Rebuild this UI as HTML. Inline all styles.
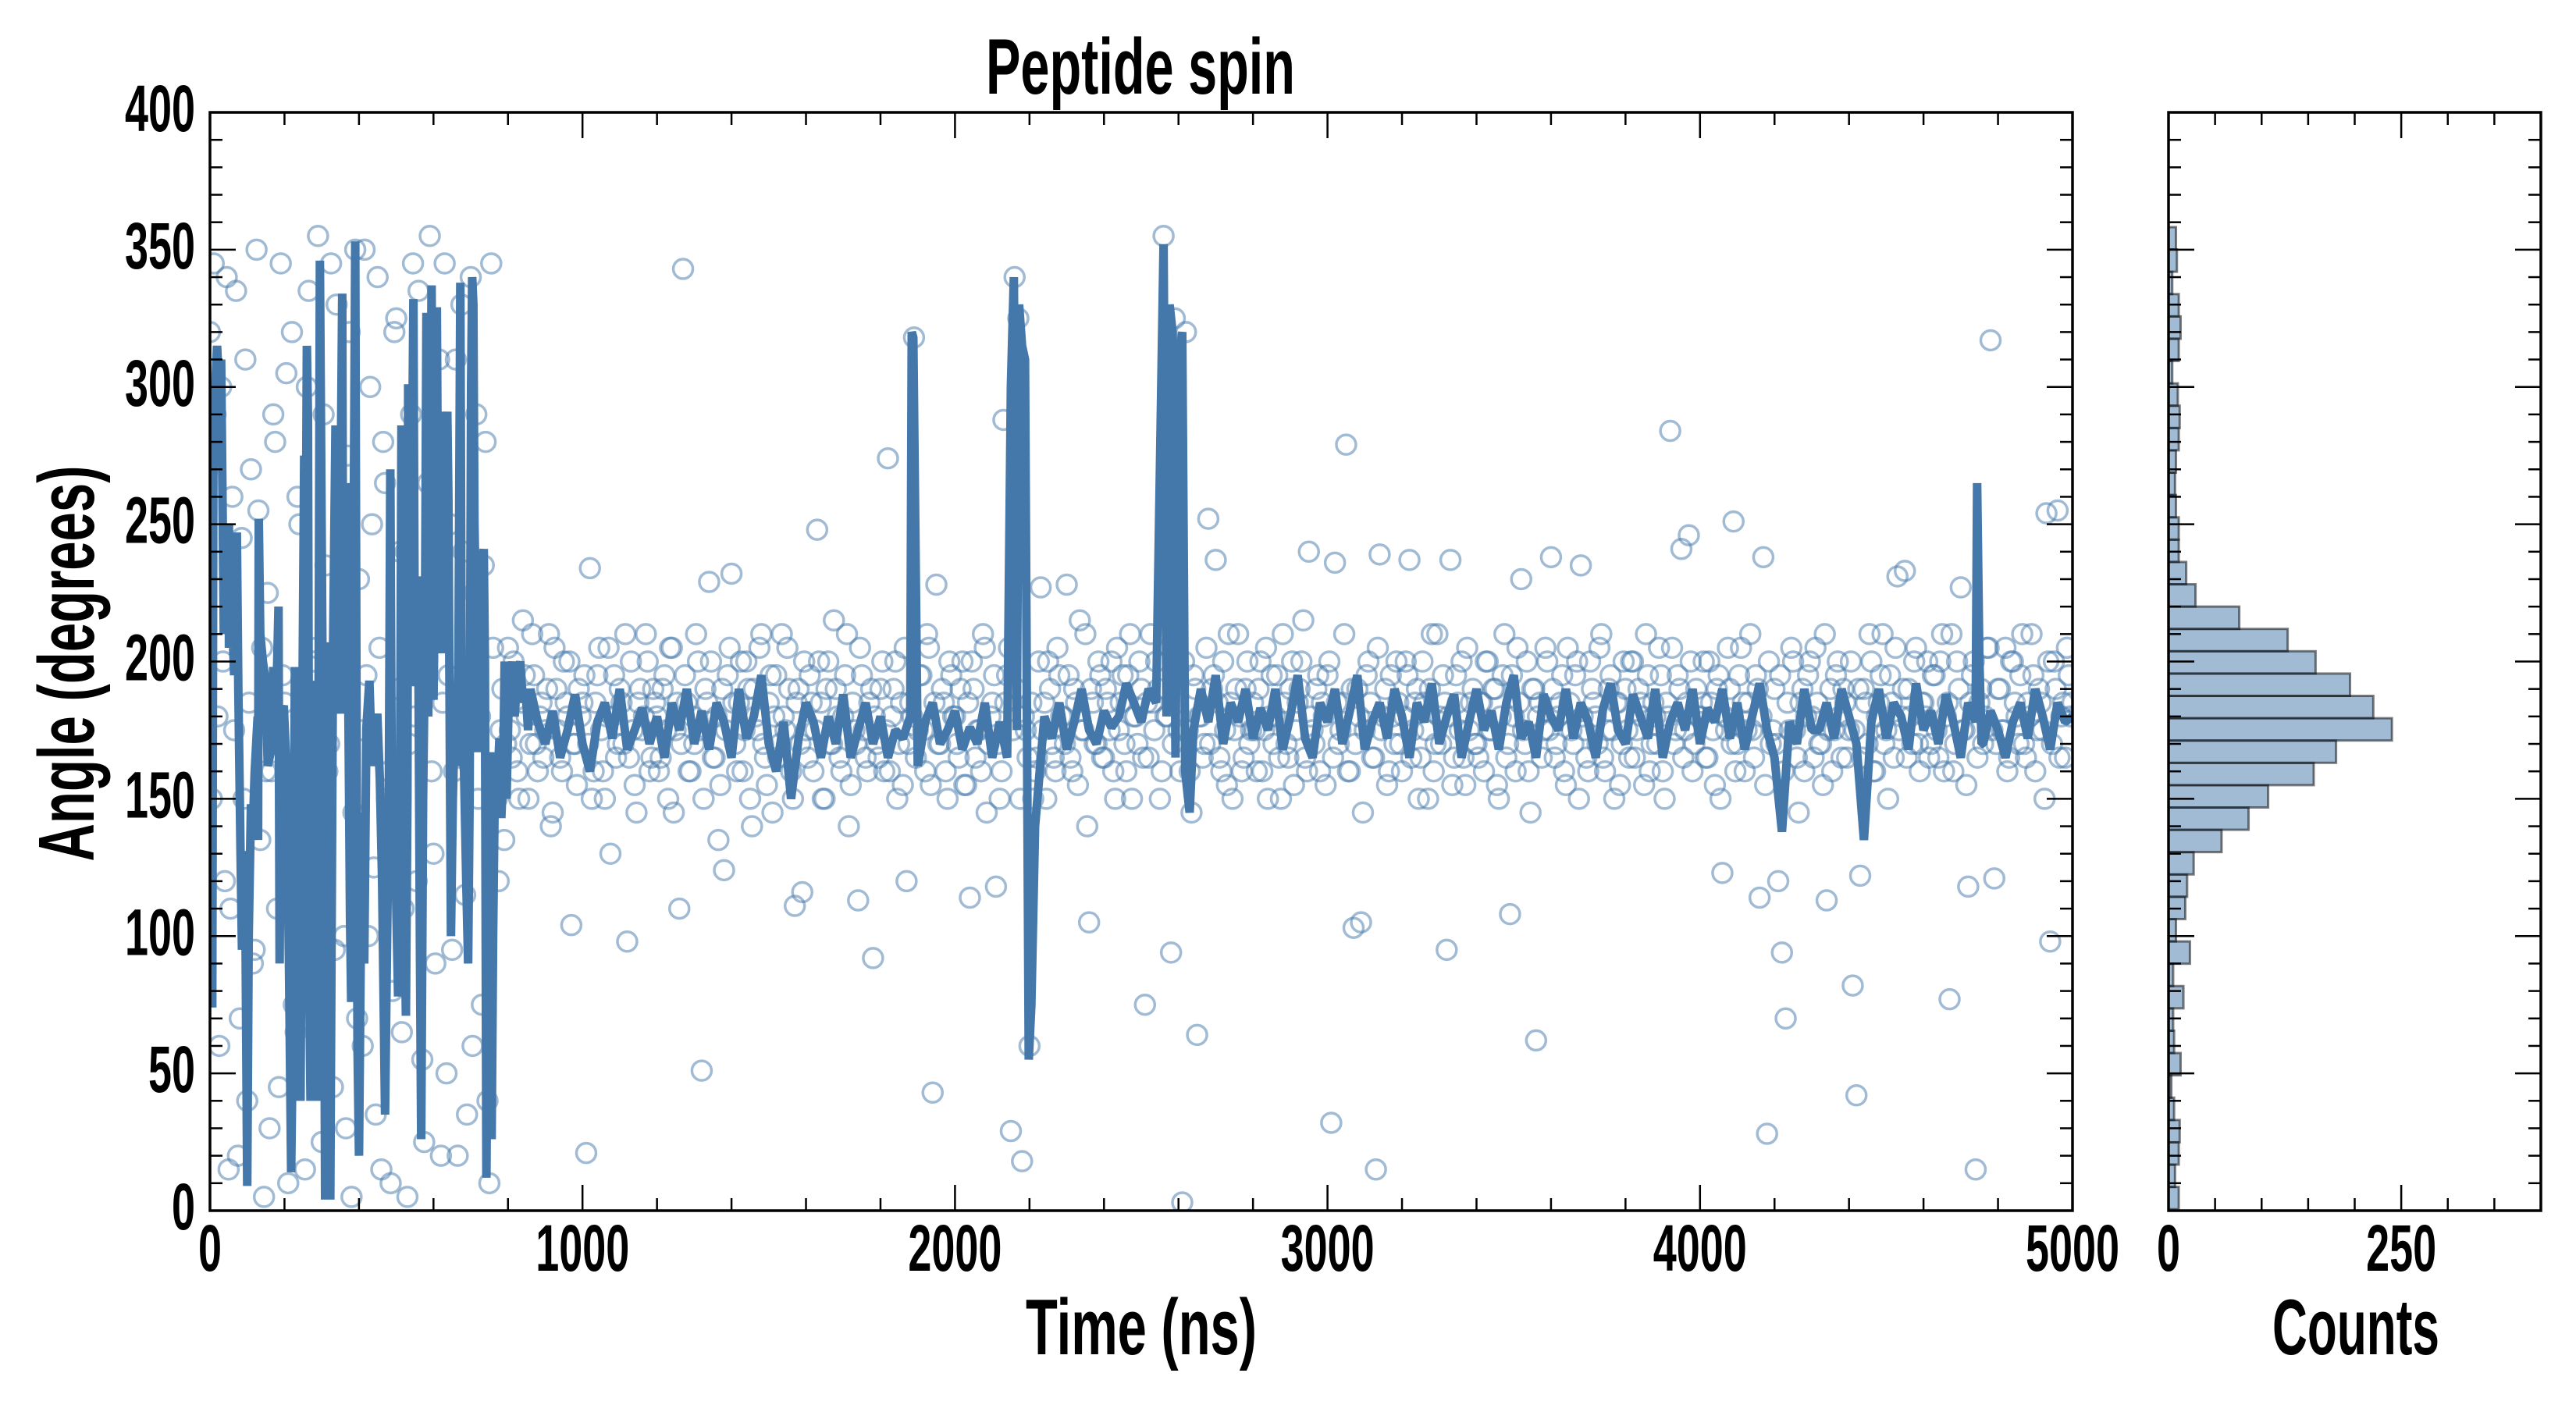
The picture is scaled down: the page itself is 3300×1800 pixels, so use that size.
<!DOCTYPE html>
<html><head><meta charset="utf-8"><title>Peptide spin</title>
<style>
html,body{margin:0;padding:0;background:#fff;}
svg{display:block;}
text{font-family:"Liberation Sans Narrow","Liberation Sans",sans-serif;font-weight:bold;fill:#000;}
</style></head>
<body>
<svg id="chart" width="3300" height="1800" viewBox="0 0 3300 1800" xmlns="http://www.w3.org/2000/svg">
<defs>
<clipPath id="mainClip"><rect x="269" y="144" width="2386" height="1407"/></clipPath>
</defs>
<rect x="0" y="0" width="3300" height="1800" fill="#fff"/>
<g id="scatterLayer" clip-path="url(#mainClip)"></g>
<g id="lineLayer" clip-path="url(#mainClip)"></g>
<g id="histLayer"></g>
<g id="axesLayer"></g>
<text x="1461" y="120" font-size="101" text-anchor="middle" textLength="396" lengthAdjust="spacingAndGlyphs">Peptide spin</text>
<text x="1462" y="1735" font-size="101" text-anchor="middle" textLength="296" lengthAdjust="spacingAndGlyphs">Time (ns)</text>
<text x="3018" y="1735" font-size="101" text-anchor="middle" textLength="214" lengthAdjust="spacingAndGlyphs">Counts</text>
<text transform="translate(120,850) rotate(-90)" x="0" y="0" font-size="101" text-anchor="middle" textLength="507" lengthAdjust="spacingAndGlyphs">Angle (degrees)</text>
</svg>
<script>
// ---- data ----
const scatterStep = 10;
const scatterAngles = [
320,345,180,300,120,15,260,335,70,150,40,270,95,255,205,160,30,290,110,345,
185,10,320,65,250,140,300,85,200,355,25,235,170,45,330,210,100,275,5,350,
230,60,195,300,125,340,15,265,160,80,325,240,110,5,290,180,335,55,215,355,
130,275,20,345,195,95,310,165,240,35,340,225,150,75,280,10,205,150,175,135,
205,165,190,150,215,180,170,195,160,185,175,210,145,190,165,200,180,104,170,190,
185,21,234,160,195,175,150,205,180,165,190,170,98,200,155,185,175,210,160,190,
180,165,195,150,205,175,110,343,185,160,170,200,51,190,229,165,180,155,124,195,
232,170,185,160,200,150,190,175,210,165,185,145,195,170,180,205,160,111,190,116,
175,195,160,248,185,150,200,170,190,165,180,210,155,175,113,195,165,185,92,170,
190,160,274,180,200,170,155,120,185,318,175,195,160,205,43,228,170,185,150,195,
180,165,200,155,114,190,175,160,205,170,185,118,150,288,195,29,340,325,18,175,
60,150,165,227,185,200,170,160,195,180,228,165,190,155,175,210,105,185,170,195,
165,185,200,150,175,195,160,210,180,170,190,75,165,185,200,150,355,180,94,325,
175,3,320,160,195,64,180,170,252,190,237,165,200,155,185,175,210,160,190,170,
185,160,200,175,150,195,180,165,210,170,190,155,185,200,165,240,175,190,160,180,
195,32,236,170,185,279,160,103,190,105,175,200,165,15,239,180,155,195,170,185,
160,200,237,175,190,165,185,150,210,170,180,195,95,237,165,185,200,155,175,190,
170,185,160,200,175,190,150,195,165,108,180,205,230,170,160,190,62,185,175,200,
238,165,180,195,155,185,170,200,235,175,160,190,180,205,165,175,195,150,185,170,
190,165,200,175,185,155,195,170,180,205,160,185,284,170,195,241,175,246,160,190,
180,200,165,185,155,195,123,175,190,251,170,205,160,185,175,195,114,238,28,170,
190,120,94,70,175,200,165,185,160,195,180,205,170,155,113,190,175,200,165,185,
175,82,42,122,190,170,200,160,185,210,175,195,165,231,180,233,190,170,205,160,
185,200,170,195,165,210,180,77,160,200,227,175,118,195,15,185,170,205,317,121,
190,175,205,165,200,180,195,170,185,210,160,190,175,254,98,200,255,180,165,195,
185];
const scatter2Offset = 5;
const scatterAngles2 = [
150,290,60,200,340,110,175,20,245,310,185,90,350,135,5,225,160,280,45,195,
305,140,75,260,180,15,335,120,205,55,290,160,345,95,185,250,30,320,145,70,
175,350,100,250,35,205,280,150,10,320,190,65,240,170,345,120,200,25,265,160,
90,310,185,50,250,160,20,330,115,200,60,290,180,235,40,345,150,120,190,170,
175,200,160,185,195,150,210,170,180,165,190,140,205,175,160,185,200,170,155,180,
195,170,150,185,205,160,180,130,195,170,185,210,165,175,145,190,180,200,165,185,
160,190,175,205,145,185,170,195,160,180,210,175,150,185,200,165,135,190,175,205,
185,160,200,175,190,140,180,205,170,155,195,180,165,210,175,190,150,185,170,200,
165,185,175,200,150,190,170,215,180,160,195,140,185,170,205,175,160,190,180,165,
200,175,160,190,150,185,205,170,180,165,195,175,210,155,185,170,190,160,200,180,
170,190,155,185,200,165,175,210,145,180,195,170,160,185,205,175,190,150,180,165,
185,160,200,175,150,190,165,205,180,170,195,160,185,215,175,140,190,170,200,165,
190,175,160,205,185,170,195,150,180,200,165,185,210,175,190,160,180,205,170,185,
160,200,175,145,190,180,165,205,170,195,185,160,175,210,150,190,180,165,200,175,
175,190,160,205,180,170,195,150,185,165,200,175,190,215,160,180,170,195,185,155,
200,165,185,175,210,160,190,170,180,145,195,185,165,205,175,190,160,180,200,170,
180,195,165,185,150,200,175,190,160,210,170,185,180,155,195,175,165,205,185,170,
165,185,200,175,190,155,180,210,170,195,160,185,175,200,145,190,180,165,205,175,
190,170,185,160,205,175,195,150,180,165,200,185,170,210,160,190,175,185,155,200,
175,200,165,190,180,210,160,185,170,195,150,180,205,175,190,165,185,200,170,180,
185,165,200,175,190,150,180,205,170,160,195,185,175,210,165,190,180,155,200,175,
170,195,160,185,205,175,145,190,180,200,165,185,170,210,175,160,195,180,190,165,
200,175,190,165,185,210,160,180,195,170,150,185,205,175,190,165,180,200,170,185,
180,165,195,175,200,160,185,210,170,190,175,155,185,200,165,190,180,205,175,170,
190,175,160,200,185,170,210,165,180,195,175,185,150,200,170,190,165,185,205,180];

const earlyTimes = [0,3,6,9,14,19,24,30,37,44,51,51,58,65,72,76,82,86,90,95,100,104,110,114,120,128,129,131,135,142,149,155,163,170,177,184,187,191,198,205,212,218,222,228,232,236,239,243,248,253,256,260,263,267,270,275,281,283,288,292,295,298,302,306,309,314,318,323,330,337,344,350,355,358,365,372,376,379,384,390,393,396,400,405,410,414,420,428,435,442,449,456,462,470,474,480,484,488,494,498,500,505,510,514,518,522,526,530,532,536,542,546,550,556,560,564,567,572,577,581,586,590,595,600,605,609,614,618,623,627,632,637,640,644,647,652,658,662,667,672,676,682,688,693,697,701,704,707,710,714,717,722,728,735,738,742,746,752,756,760,765,770,777,782,787,791,796,801,805,812,818,825,833,840,847,854];
const earlyAngles = [160,267,74,267,300,315,300,310,210,240,250,205,220,195,247,190,131,95,131,110,9,100,148,135,160,180,135,252,210,200,193,162,167,198,180,220,90,180,184,162,90,14,60,198,145,198,76,40,180,275,203,315,289,76,40,193,162,76,40,200,346,286,200,124,4,110,207,4,200,286,181,250,334,181,265,176,107,76,200,353,203,60,20,100,145,90,176,193,162,170,181,157,120,35,83,150,270,150,162,141,112,78,150,286,203,112,71,150,301,203,260,332,191,231,191,90,26,150,205,327,180,250,337,186,240,329,203,250,291,203,265,291,260,167,100,150,184,162,200,338,170,160,120,90,150,300,340,330,250,219,167,200,230,241,200,12,100,167,26,100,160,150,172,143,160,200,150,180,188,200,180,195,200,185,190,175];

const steadyStart = 860;
const steadyStep = 20;
const steadyAngles = [
190,178,170,182,165,175,188,170,160,178,185,172,190,168,175,183,170,180,165,185,
175,190,170,182,168,185,178,165,190,172,180,195,170,160,178,150,172,185,178,165,
180,170,188,165,175,185,170,180,165,175,172,180,162,178,185,170,175,182,168,176,
170,185,165,178,165,null,null,null,null,180,172,185,168,178,190,175,170,182,176,
180,192,185,178,190,185,null,null,null,null,175,190,178,195,170,185,178,190,172,183,
175,190,168,180,195,172,165,185,178,190,170,182,195,168,178,185,172,190,180,165,
185,178,192,170,180,188,165,178,190,175,182,168,185,195,172,178,165,188,180,175,
190,172,185,178,165,183,192,175,170,188,180,172,190,165,178,185,175,190,170,183,
178,190,172,185,168,180,192,175,165,138,178,170,190,175,175,185,172,190,180,170,
135,178,190,172,185,180,168,192,175,182,170,188,178,165,185,178,170,182,175,165,
178,185,172,190,180,168,185,178,180];

const spikeTimes = [1884,1888, 2150,2158,2166,2172,2180,2188,2198,2205,2215, 2560,2568,2576,2584,2592,2600,2610,2618,2630, 4744,4750,4756];
const spikeAngles = [320,318, 300,340,175,330,315,310,55,75,140, 352,180,330,320,165,310,320,160,145, 265,200,170];

const histBinStart = 0.5;
const histBinWidth = 8.13;
const histCounts = [11,7,11,12,6,3,13,6,5,16,5,23,8,18,20,27,57,86,107,156,180,240,220,195,158,128,76,29,19,11,11,8,7,8,11,12,10,4,11,13,11,4,9,8];

const xTicksMajor = [0,1000,2000,3000,4000,5000];
const xTickLabels = ["0","1000","2000","3000","4000","5000"];
const yTicksMajor = [0,50,100,150,200,250,300,350,400];
const yTickLabels = ["0","50","100","150","200","250","300","350","400"];
const countTicksMajor = [0,250];
const countTickLabels = ["0","250"];

// ---- scales ----
const X0=269, X1=2655, Y0=1551, Y1=144, H0=2778, H1=3255;
const tMax=5000, aMax=400, cMax=400;
const xs = t => X0 + (t/tMax)*(X1-X0);
const ys = a => Y0 - (a/aMax)*(Y0-Y1);
const hs = c => H0 + (c/cMax)*(H1-H0);
const NS='http://www.w3.org/2000/svg';
function mk(tag, attrs, parent){const e=document.createElementNS(NS,tag);for(const k in attrs)e.setAttribute(k,attrs[k]);parent.appendChild(e);return e;}

// scatter
const sc=document.getElementById('scatterLayer');
scatterAngles.forEach((a,i)=>{
  const c=mk('circle',{cx:xs(i*scatterStep),cy:ys(a),r:12.5,fill:'none',stroke:'rgba(68,119,170,0.5)','stroke-width':3.5},sc);
  
  
});
scatterAngles2.forEach((a,i)=>{
  const c=mk('circle',{cx:xs(scatter2Offset+i*scatterStep),cy:ys(a),r:12.5,fill:'none',stroke:'rgba(68,119,170,0.5)','stroke-width':3.5},sc);
  
  
});

// line
const pts=[];
earlyTimes.forEach((t,i)=>pts.push([t,earlyAngles[i]]));
steadyAngles.forEach((a,i)=>{if(a!==null)pts.push([steadyStart+i*steadyStep,a]);});
spikeTimes.forEach((t,i)=>pts.push([t,spikeAngles[i]]));
pts.sort((p,q)=>p[0]-q[0]);
const ln=document.getElementById('lineLayer');
const pl=mk('polyline',{points:pts.map(p=>xs(p[0]).toFixed(1)+','+ys(p[1]).toFixed(1)).join(' '),fill:'none',stroke:'#4477aa','stroke-width':11,'stroke-linejoin':'bevel','stroke-linecap':'butt'},ln);



// histogram
const hg=document.getElementById('histLayer');
histCounts.forEach((c,i)=>{
  const lo=histBinStart+i*histBinWidth, hi=lo+histBinWidth;
  const r=mk('rect',{x:H0,y:ys(hi),width:hs(c)-H0,height:ys(lo)-ys(hi),fill:'rgba(68,119,170,0.5)',stroke:'rgba(0,0,0,0.5)','stroke-width':3},hg);
  
  
});

// axes
const ax=document.getElementById('axesLayer');
function tick(x1,y1,x2,y2,name){const l=mk('line',{x1:x1,y1:y1,x2:x2,y2:y2,stroke:'#000','stroke-width':2.5},ax);}
for(let t=0;t<=tMax;t+=200){const x=xs(t);const L=(t%1000===0)?33:16;tick(x,Y0,x,Y0-L,'x-tick');tick(x,Y1,x,Y1+L,'x-tick-top');}
for(let a=0;a<=aMax;a+=10){const y=ys(a);const L=(a%50===0)?33:16;
  tick(X0,y,X0+L,y,'y-tick');tick(X1,y,X1-L,y,'y-tick-right');
  tick(H0,y,H0+L,y,'hist-y-tick');tick(H1,y,H1-L,y,'hist-y-tick-right');}
for(let c=0;c<=cMax;c+=50){const x=hs(c);const L=(c%250===0)?33:16;tick(x,Y0,x,Y0-L,'hist-x-tick');tick(x,Y1,x,Y1+L,'hist-x-tick-top');}
const f1=mk('rect',{x:X0,y:Y1,width:X1-X0,height:Y0-Y1,fill:'none',stroke:'#000','stroke-width':3.5},ax);


const f2=mk('rect',{x:H0,y:Y1,width:H1-H0,height:Y0-Y1,fill:'none',stroke:'#000','stroke-width':3.5},ax);


const svg=document.getElementById('chart');
function label(x,y,s,anchor,name){const e=mk('text',{x:x,y:y,'font-size':84,'text-anchor':anchor,textLength:s.length*30,lengthAdjust:'spacingAndGlyphs'},svg);e.textContent=s;}
xTicksMajor.forEach((t,i)=>label(xs(t),1628,xTickLabels[i],'middle','x-tick-label'));
yTicksMajor.forEach((a,i)=>label(250,ys(a)+24,yTickLabels[i],'end','y-tick-label'));
countTicksMajor.forEach((c,i)=>label(hs(c),1628,countTickLabels[i],'middle','histogram-x-tick-label'));
</script>
</body></html>
